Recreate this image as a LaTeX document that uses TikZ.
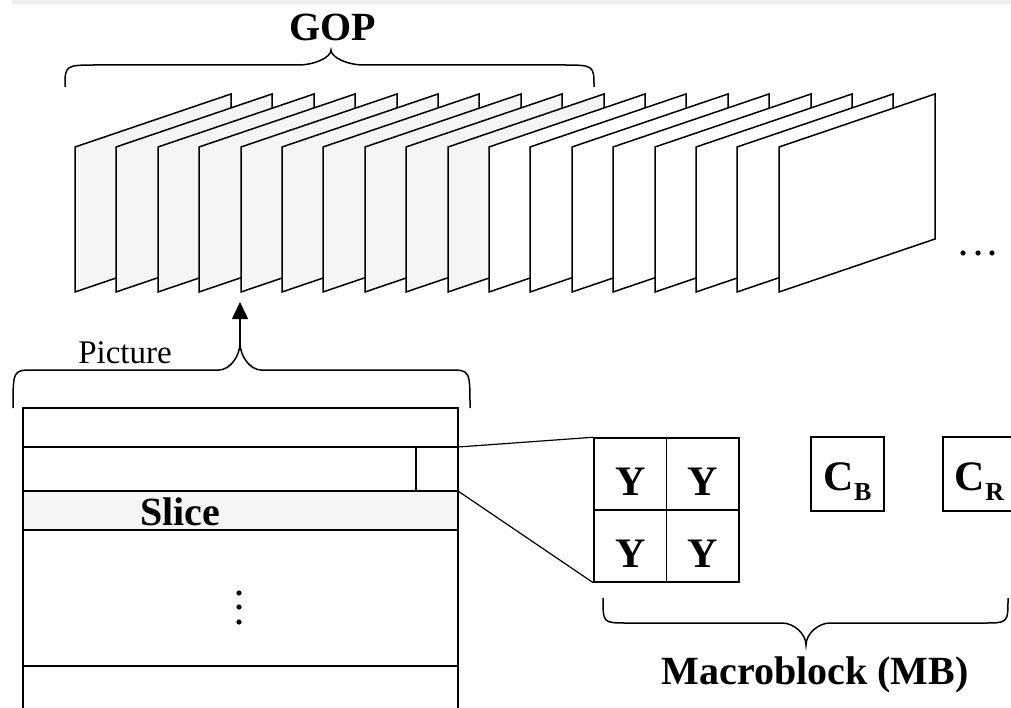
\documentclass[tikz,border=0pt]{standalone}
\usepackage{fontspec}
\setmainfont{Liberation Serif}
\usetikzlibrary{arrows.meta}
\definecolor{framegray}{HTML}{F5F5F5}
\definecolor{topband}{RGB}{240,236,240}
\newcommand{\frm}[2]{ \draw[fill=#2] (#1,292) -- (#1,147) -- ++(156,-53) -- ++(0,145) -- cycle;}
\newcommand{\curly}[7]{ \draw (#1,#3) .. controls (#1,#4) .. (#1+#7,#4) -- (#5-#7,#4)
    .. controls (#5-#7/2,#4) and (#5,{(#4+#6)/2}) .. (#5,#6)
    .. controls (#5,{(#4+#6)/2}) and (#5+#7/2,#4) .. (#5+#7,#4)
    -- (#2-#7,#4) .. controls (#2,#4) .. (#2,#3);}

\begin{document}
\begin{tikzpicture}[x=1pt, y=-1pt, line width=1.5pt,
    bigtxt/.style={font=\fontsize{40}{48}\selectfont\bfseries, inner sep=0pt},
    smalltxt/.style={font=\fontsize{33}{40}\selectfont, inner sep=0pt},
    mbcell/.style={draw, minimum width=72.5pt, minimum height=72pt, inner sep=0pt,
        font=\fontsize{42}{48}\selectfont\bfseries, text height=42pt, text depth=0pt},
    chromacell/.style={mbcell, minimum width=73pt, minimum height=74pt, text height=32pt}]
    \useasboundingbox (0,0) rectangle (1011,708);
    \fill[topband] (12,0) rectangle (1011,4);

    % GOP
    \node[bigtxt, anchor=base] (goplbl) at (333,41) {GOP};
    \curly{65}{594}{87}{65}{331}{50}{33}

    % frames
    \frm{75}{framegray}
    \frm{116}{framegray}
    \frm{158}{framegray}
    \frm{199}{framegray}
    \frm{241}{framegray}
    \frm{282}{framegray}
    \frm{323}{framegray}
    \frm{365}{framegray}
    \frm{406}{framegray}
    \frm{448}{framegray}
    \frm{489}{white}
    \frm{530}{white}
    \frm{572}{white}
    \frm{613}{white}
    \frm{655}{white}
    \frm{696}{white}
    \frm{737}{white}
    \frm{779}{white}

    \fill (963,253) circle (2.6pt);
    \fill (978,253) circle (2.6pt);
    \fill (992,253) circle (2.6pt);

    % picture
    \node[smalltxt, anchor=base] (piclbl) at (125,363) {Picture};
    \curly{13}{470}{408}{370}{240}{343}{21}
    \coordinate (pictip) at (240,343);
    \coordinate (frmbot) at (240,302);
    \draw[-{Triangle[width=16pt,length=17pt]}] (pictip) -- (frmbot);

    \draw[fill=framegray] (23,491) rectangle (458,530);
    \draw (23,408) rectangle (458,712);
    \draw (23,447) -- (458,447);
    \draw (23,666) -- (458,666);
    \draw (416,447) -- (416,491);
    \node[bigtxt, anchor=base] (slicelbl) at (180,525) {Slice};

    \fill (239,593) circle (2.6pt);
    \fill (239,607) circle (2.6pt);
    \fill (239,622) circle (2.6pt);

    % macroblock
    \node[mbcell] (y1) at (630.25,474) {Y};
    \node[mbcell] (y2) at (702.75,474) {Y};
    \node[mbcell] (y3) at (630.25,546) {Y};
    \node[mbcell] (y4) at (702.75,546) {Y};
    \node[chromacell] (cb) at (847.5,474) {C\raisebox{-10pt}{\fontsize{26}{28}\selectfont B}};
    \node[chromacell] (cr) at (979.5,474) {C\raisebox{-10pt}{\fontsize{26}{28}\selectfont R}};

    \coordinate (cellne) at (458,447);
    \coordinate (cellse) at (458,491);
    \draw[line width=1.2pt] (cellne) -- (y1.north west);
    \draw[line width=1.2pt] (cellse) -- (y3.south west);

    \curly{603}{1008}{598}{623}{806}{645}{24}
    \node[bigtxt, anchor=base] (mblbl) at (815,684) {Macroblock (MB)};
\end{tikzpicture}
\end{document}
